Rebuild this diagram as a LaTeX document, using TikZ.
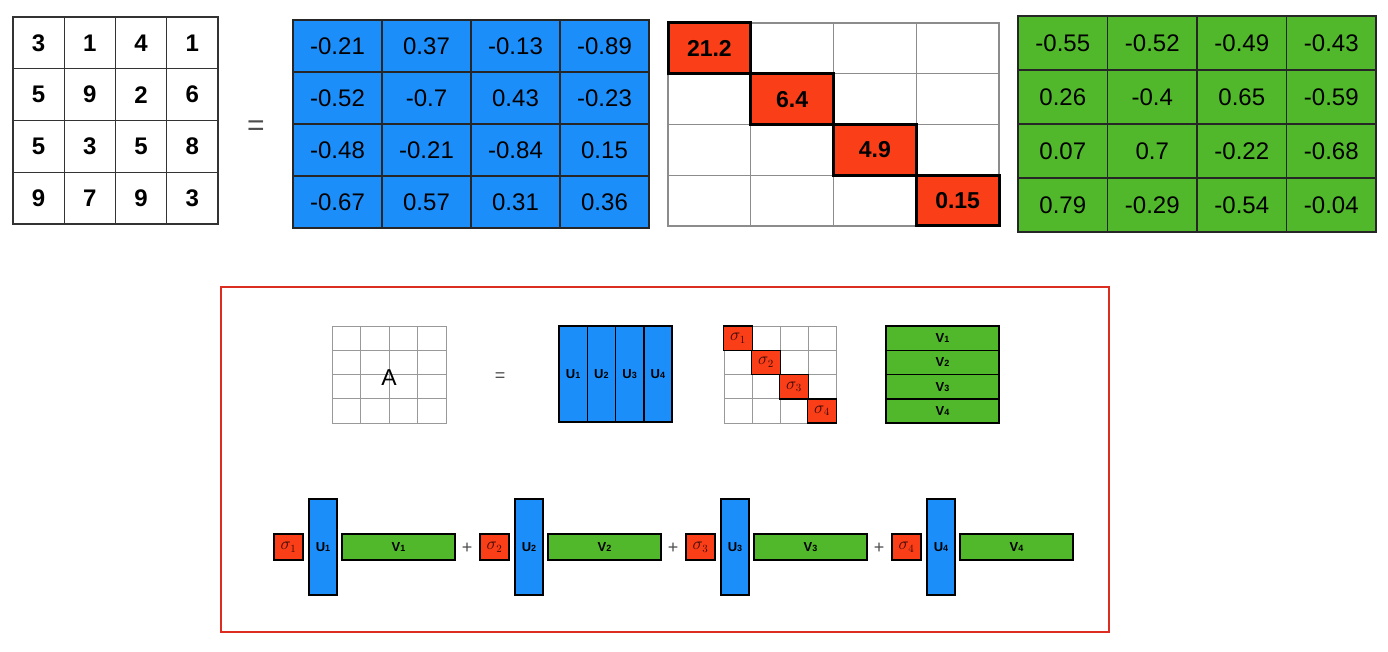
\documentclass[tikz,border=0pt]{standalone}
\usepackage{fontspec}
\setmainfont{Liberation Sans}
\definecolor{ublue}{RGB}{28,142,250}
\definecolor{sred}{RGB}{250,62,24}
\definecolor{vgreen}{RGB}{80,184,42}
\definecolor{framered}{RGB}{220,45,35}
\definecolor{sigtext}{RGB}{60,10,5}
\tikzset{
  cellbase/.style={inner sep=0pt,anchor=center},
  cellA/.style={cellbase,draw=black!80,line width=1.3pt,minimum width=51.25pt,minimum height=51.75pt,font=\fontsize{24}{26}\selectfont\bfseries},
  cellU/.style={cellbase,draw=black!85,fill=ublue,line width=1.2pt,minimum width=89pt,minimum height=52pt,font=\fontsize{24}{28}\selectfont},
  cellS/.style={cellbase,draw=black!45,line width=1.2pt,minimum width=82.75pt,minimum height=50.75pt},
  diagS/.style={cellbase,draw=black,fill=sred,line width=3pt,minimum width=82.75pt,minimum height=50.75pt,font=\fontsize{23}{26}\selectfont\bfseries},
  cellV/.style={cellbase,draw=black!85,fill=vgreen,line width=1.2pt,minimum width=89.5pt,minimum height=54pt,font=\fontsize{24}{28}\selectfont},
  gridsmall/.style={cellbase,draw=black!40,line width=0.8pt,minimum height=24.25pt},
  sbox/.style={cellbase,draw=black,fill=sred,line width=1.5pt,text=sigtext,font=\fontsize{16}{17}\selectfont},
  ubox/.style={cellbase,draw=black,fill=ublue,line width=1.5pt,font=\fontsize{13}{14}\selectfont\bfseries},
  vbox/.style={cellbase,draw=black,fill=vgreen,line width=1.5pt,font=\fontsize{13}{14}\selectfont\bfseries},
  eqsign/.style={text=black!70,inner sep=0pt}
}
\newcommand{\idx}[2]{#1{\fontsize{9}{10}\selectfont #2}}
\begin{document}
\begin{tikzpicture}[x=1pt,y=-1pt]
\useasboundingbox (0,0) rectangle (1388,652);
% top row: A = U S V^T with numbers
\foreach \row [count=\r] in {{3,1,4,1},{5,9,2,6},{5,3,5,8},{9,7,9,3}}
  \foreach \v [count=\c] in \row
    \node[cellA] (a-\r-\c) at ({13+51.25*(\c-0.5)},{17+51.75*(\r-0.5)}) {\v};
\node[eqsign,font=\fontsize{30}{32}\selectfont] (eqtop) at (256,128) {=};
\foreach \row [count=\r] in {{-0.21,0.37,-0.13,-0.89},{-0.52,-0.7,0.43,-0.23},{-0.48,-0.21,-0.84,0.15},{-0.67,0.57,0.31,0.36}}
  \foreach \v [count=\c] in \row
    \node[cellU] (u-\r-\c) at ({293+89*(\c-0.5)},{20+52*(\r-0.5)}) {\v};
\foreach \r in {1,...,4}
  \foreach \c in {1,...,4}
    \node[cellS] (s-\r-\c) at ({668+82.75*(\c-0.5)},{23+50.75*(\r-0.5)}) {};
\foreach \v [count=\i] in {21.2,6.4,4.9,0.15}
  \node[diagS] (d-\i) at (s-\i-\i) {\v};
\foreach \row [count=\r] in {{-0.55,-0.52,-0.49,-0.43},{0.26,-0.4,0.65,-0.59},{0.07,0.7,-0.22,-0.68},{0.79,-0.29,-0.54,-0.04}}
  \foreach \v [count=\c] in \row
    \node[cellV] (v-\r-\c) at ({1018+89.5*(\c-0.5)},{16+54*(\r-0.5)}) {\v};
% bottom frame: the symbolic version
\node[cellbase,draw=framered,line width=1.2pt,minimum width=888pt,minimum height=345pt] (frame) at (665,459.5) {};
\foreach \r in {1,...,4}
  \foreach \c in {1,...,4}{
    \node[gridsmall,minimum width=28.5pt] (ga-\r-\c) at ({332+28.5*(\c-0.5)},{326+24.25*(\r-0.5)}) {};
    \node[gridsmall,minimum width=28pt] (gs-\r-\c) at ({724+28*(\c-0.5)},{326+24.25*(\r-0.5)}) {};
  }
\node[font=\fontsize{23}{25}\selectfont,inner sep=0pt] (Alabel) at (389,378) {A};
\node[eqsign,font=\fontsize{18}{19}\selectfont] (eqbot) at (500,377) {=};
\foreach \i in {1,...,4}{
  \node[ubox,minimum width=28.25pt,minimum height=96pt] (ucol-\i) at ({559+28.25*(\i-0.5)},374) {\idx{U}{\i}};
  \node[sbox,minimum width=29pt,minimum height=24.25pt] (sd-\i) at (gs-\i-\i) {$\sigma_{\i}$};
  \node[vbox,minimum width=113pt,minimum height=24.25pt] (vrow-\i) at ({942.5},{326+24.25*(\i-0.5)}) {\idx{V}{\i}};
}
% sum of rank-one terms
\foreach \k in {1,...,4}{
  \node[sbox,minimum width=29pt,minimum height=26pt] (bs-\k) at ({288.5+206*(\k-1)},547) {$\sigma_{\k}$};
  \node[ubox,minimum width=28pt,minimum height=96pt] (bu-\k) at ({323+206*(\k-1)},547) {\idx{U}{\k}};
  \node[vbox,minimum width=113pt,minimum height=26pt] (bv-\k) at ({398.5+206*(\k-1)},547) {\idx{V}{\k}};
}
\foreach \k in {1,2,3}
  \node[eqsign,font=\fontsize{18}{19}\selectfont] (plus-\k) at ({467+206*(\k-1)},548) {+};
\end{tikzpicture}
\end{document}
